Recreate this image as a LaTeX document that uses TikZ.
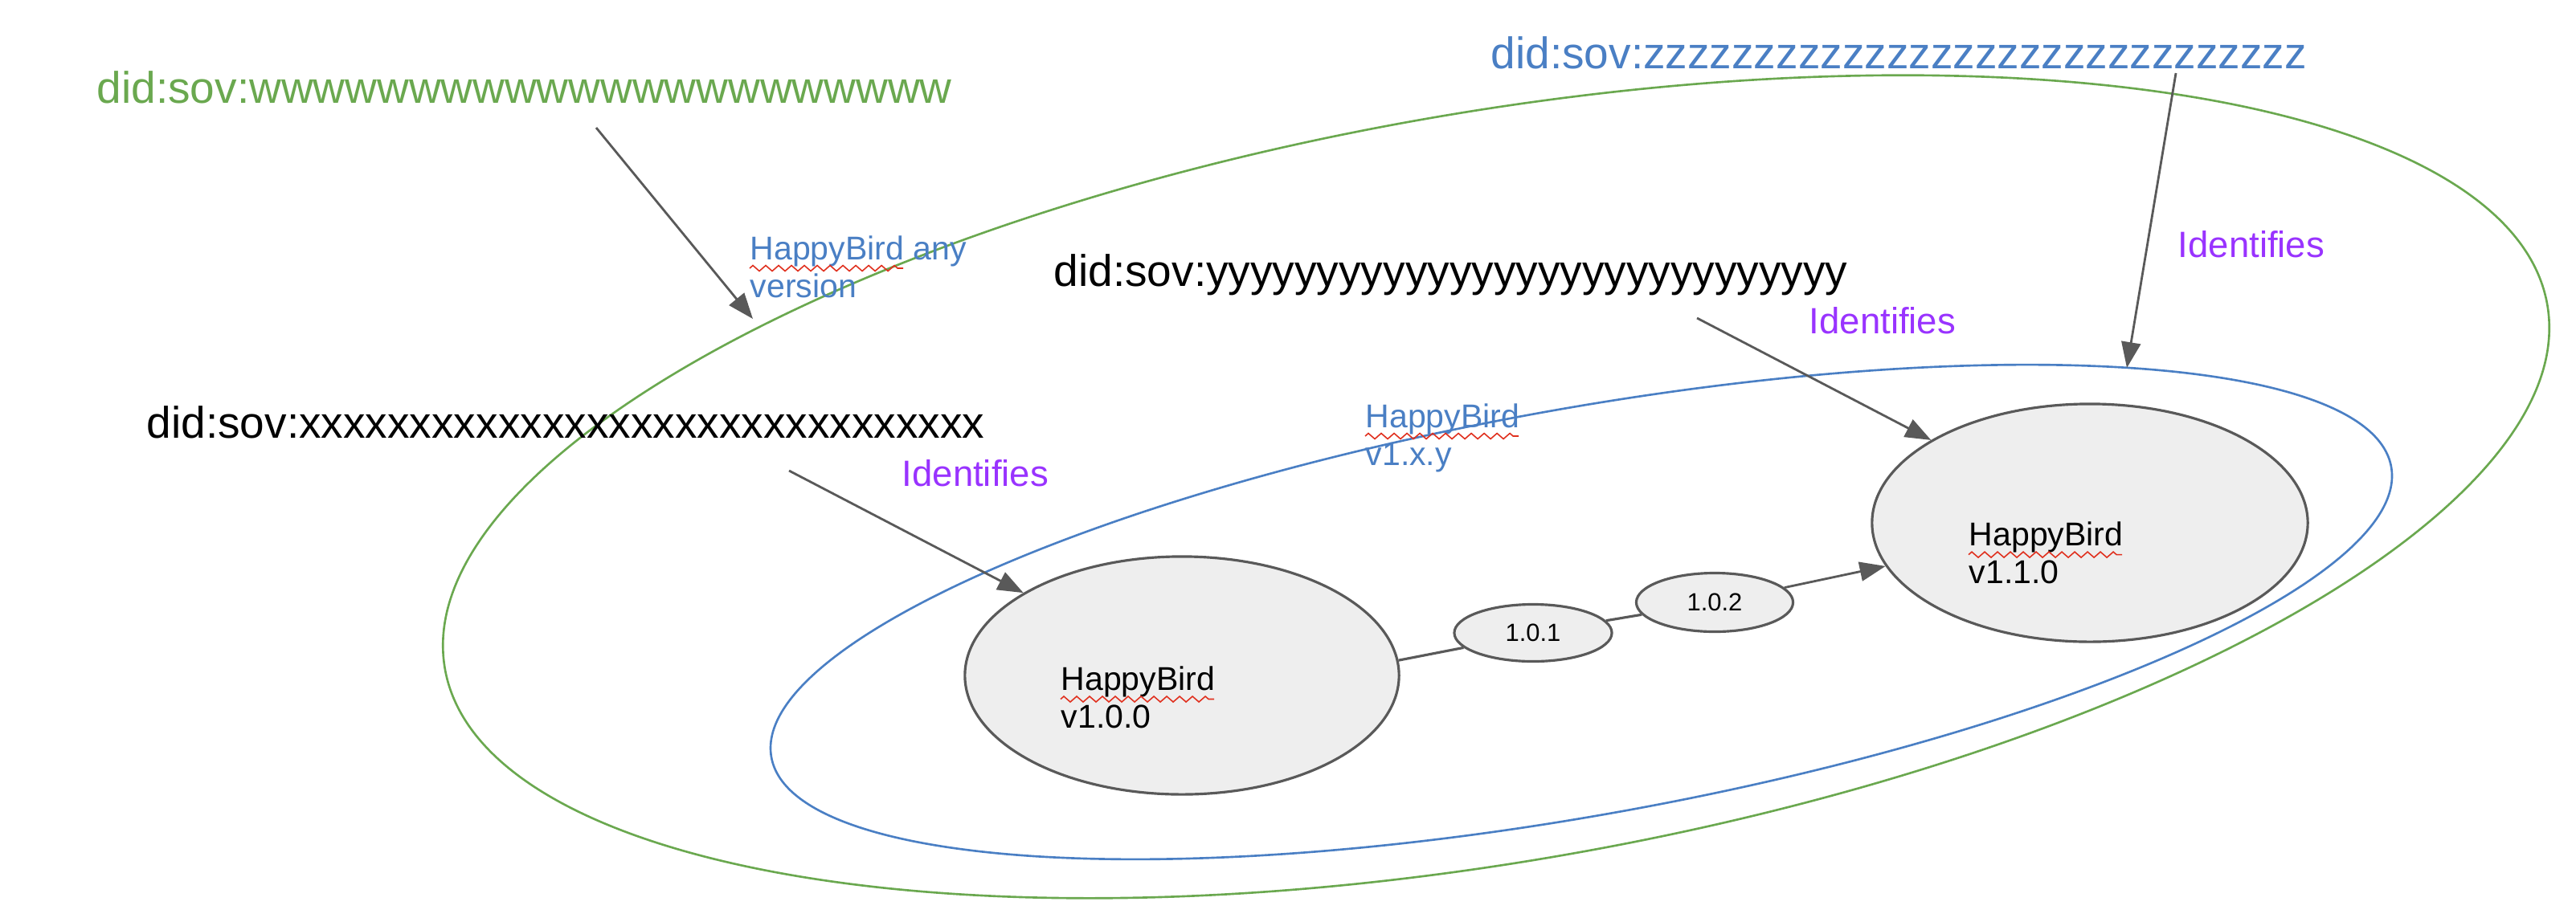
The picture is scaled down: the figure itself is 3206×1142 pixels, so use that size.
\documentclass[tikz,border=0pt]{standalone}
\usepackage{fontspec}
\setmainfont{Liberation Sans}
\usetikzlibrary{arrows.meta,shapes.geometric,decorations.pathmorphing}
\definecolor{dgreen}{HTML}{6AA84F}
\definecolor{dblue}{HTML}{4A7FC4}
\definecolor{dpurple}{HTML}{9933FF}
\definecolor{dgrey}{HTML}{595959}
\definecolor{nfill}{HTML}{EEEEEE}
\definecolor{squigred}{HTML}{E0301E}
\begin{document}
\begin{tikzpicture}[x=0.01cm,y=-0.01cm,
  bigell/.style={draw, ellipse, inner sep=0pt, line width=0.75pt},
  vernode/.style={draw=dgrey, fill=nfill, ellipse, line width=0.9pt, inner sep=0pt},
  did/.style={inner sep=0pt, anchor=base west, font=\fontsize{15.65pt}{18pt}\selectfont},
  ident/.style={inner sep=0pt, anchor=base west, text=dpurple, font=\fontsize{12.95pt}{15pt}\selectfont},
  lbl/.style={inner sep=0pt, anchor=base west, font=\fontsize{11.67pt}{13.37pt}\selectfont},
  small/.style={font=\fontsize{8.8pt}{10pt}\selectfont},
  arr/.style={draw=dgrey, line width=0.8pt, -{Triangle[length=0.32cm,width=0.24cm]}},
  link/.style={draw=dgrey, line width=0.9pt},
  squig/.style={draw=squigred, line width=0.45pt, decorate, decoration={zigzag, amplitude=0.035cm, segment length=0.16cm}}
]
\useasboundingbox (0,0) rectangle (3206,1142);
% sets
\node[bigell, draw=dgreen, rotate=9.82, minimum width=26.54cm, minimum height=9.32cm] (gset) at (1862,606) {};
\node[bigell, draw=dblue, rotate=10.17, minimum width=20.47cm, minimum height=5.06cm] (bset) at (1968,762) {};
% version nodes
\node[vernode, minimum width=5.40cm, minimum height=2.96cm] (v100) at (1471,841) {};
\node[vernode, minimum width=5.42cm, minimum height=2.96cm] (v110) at (2601,651) {};
\node[vernode, small, minimum width=1.96cm, minimum height=0.71cm] (n101) at (1908,788) {1.0.1};
\node[vernode, small, minimum width=1.95cm, minimum height=0.73cm] (n102) at (2134,750) {1.0.2};
% DID texts
\node[did, text=dgreen] (tw) at (120,128) {did:sov:wwwwwwwwwwwwwwwwwwwwww};
\node[did, text=dblue] (tz) at (1855,85) {did:sov:zzzzzzzzzzzzzzzzzzzzzzzzzzzzzz};
\node[did] (ty) at (1311,356) {did:sov:yyyyyyyyyyyyyyyyyyyyyyyyyyyyy};
\node[did] (tx) at (182,545) {did:sov:xxxxxxxxxxxxxxxxxxxxxxxxxxxxxxx};
% Identifies labels
\node[ident] (i1) at (2710,320) {Identifies};
\node[ident] (i2) at (2251,415) {Identifies};
\node[ident] (i3) at (1122,605) {Identifies};
% other labels
\node[lbl, text=dblue] (anyv) at (933,323) {\begin{tabular}[t]{@{}l@{}}HappyBird any\\version\end{tabular}};
\node[lbl, text=dblue] (v1xy) at (1699,532) {\begin{tabular}[t]{@{}l@{}}HappyBird\\v1.x.y\end{tabular}};
\node[lbl] (t100) at (1320,859.5) {\begin{tabular}[t]{@{}l@{}}HappyBird\\v1.0.0\end{tabular}};
\node[lbl] (t110) at (2450,679.6) {\begin{tabular}[t]{@{}l@{}}HappyBird\\v1.1.0\end{tabular}};
% spell-check squiggles
\draw[squig] ([yshift=-0.11cm]anyv.base west) -- ++(191,0);
\draw[squig] ([yshift=-0.11cm]v1xy.base west) -- ++(191,0);
\draw[squig] ([yshift=-0.11cm]t100.base west) -- ++(191,0);
\draw[squig] ([yshift=-0.11cm]t110.base west) -- ++(191,0);
% connectors
\coordinate (sw) at (742,159); \coordinate (ew) at (937,397);
\draw[arr] (sw) -- (ew);
\coordinate (sz) at (2708,91); \coordinate (ez) at (2647,458);
\draw[arr] (sz) -- (ez);
\coordinate (sy) at (2112,396);
\draw[arr] (sy) -- (v110);
\coordinate (sx) at (982,586);
\draw[arr] (sx) -- (v100);
\draw[link] (v100.4) -- (n101.192);
\draw[link] (n101) -- (n102);
\draw[arr] (n102) -- (v110);
\end{tikzpicture}
\end{document}
